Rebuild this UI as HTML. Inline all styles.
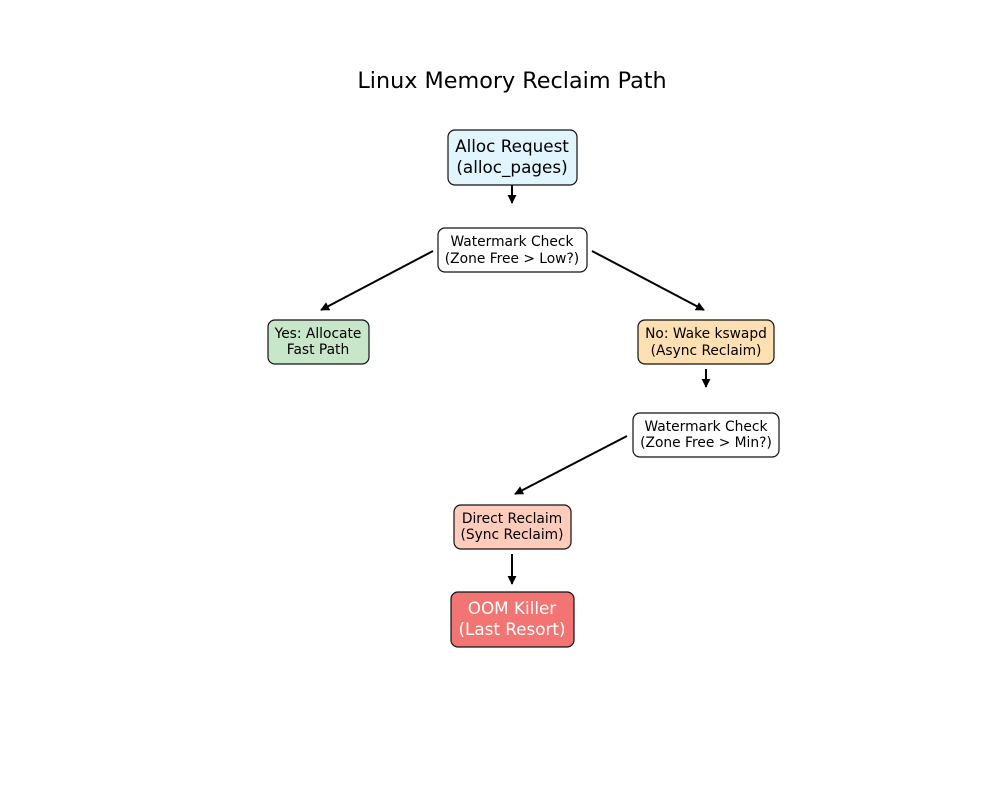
<!DOCTYPE html>
<html><head><meta charset="utf-8"><style>html,body{margin:0;padding:0;background:#fff}svg{display:block}</style></head><body>
<svg width="1000" height="800" viewBox="0 0 1000 800" xmlns="http://www.w3.org/2000/svg" font-family="DejaVu Sans, Liberation Sans, sans-serif">
<defs><marker id="a" viewBox="0 0 10 10" refX="9" refY="5" markerWidth="4.5" markerHeight="4.5" orient="auto"><path d="M0,0 L10,5 L0,10 z" fill="#000"/></marker></defs>
<text x="512" y="88" font-size="22.3" text-anchor="middle">Linux Memory Reclaim Path</text>
<g stroke="#000" stroke-width="2" marker-end="url(#a)">
<line x1="512" y1="185" x2="512" y2="203"/>
<line x1="433" y1="251" x2="321" y2="310"/>
<line x1="592" y1="251" x2="704" y2="310"/>
<line x1="706" y1="369" x2="706" y2="387"/>
<line x1="627" y1="436" x2="515" y2="494"/>
<line x1="512" y1="554" x2="512" y2="584"/>
</g>
<g stroke="#111" stroke-width="1.2">
<rect x="448" y="130" width="129" height="55" rx="7" fill="#e1f5fe"/>
<rect x="438" y="228" width="149" height="44" rx="7" fill="#fff"/>
<rect x="268" y="320" width="101" height="44" rx="7" fill="#c8e6c9"/>
<rect x="638" y="320" width="136" height="44" rx="7" fill="#ffe0b2"/>
<rect x="633" y="413" width="146" height="44" rx="7" fill="#fff"/>
<rect x="454" y="505" width="117" height="44" rx="7" fill="#ffccbc"/>
<rect x="451" y="592" width="123" height="55" rx="7" fill="#f27573"/>
</g>
<g text-anchor="middle" font-size="16.8">
<text x="512" y="152">Alloc Request</text><text x="512" y="173">(alloc_pages)</text>
<text x="512" y="614" fill="#fff">OOM Killer</text><text x="512" y="635" fill="#fff">(Last Resort)</text>
</g>
<g text-anchor="middle" font-size="13.8">
<text x="512" y="246">Watermark Check</text><text x="512" y="263">(Zone Free &gt; Low?)</text>
<text x="318" y="338">Yes: Allocate</text><text x="318" y="354">Fast Path</text>
<text x="706" y="338">No: Wake kswapd</text><text x="706" y="355">(Async Reclaim)</text>
<text x="706" y="431">Watermark Check</text><text x="706" y="447">(Zone Free &gt; Min?)</text>
<text x="512" y="523">Direct Reclaim</text><text x="512" y="539">(Sync Reclaim)</text>
</g>
</svg>
</body></html>
